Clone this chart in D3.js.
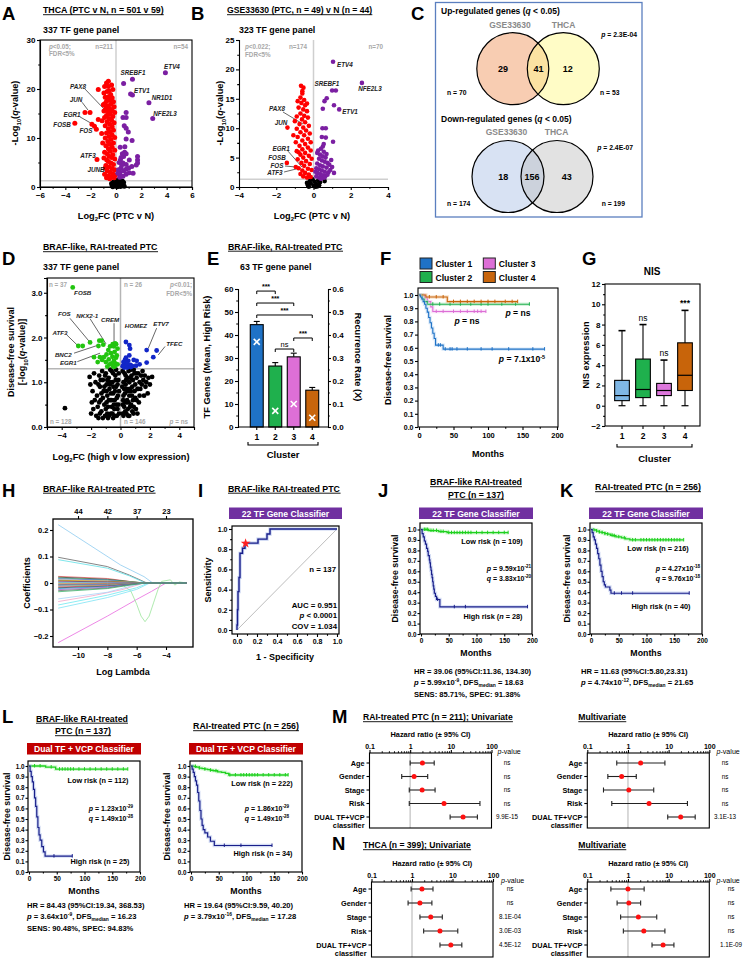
<!DOCTYPE html>
<html><head><meta charset="utf-8">
<script src="https://cdn.jsdelivr.net/npm/d3@7/dist/d3.min.js"></script>
<style>html,body{margin:0;padding:0;background:#fff;}svg{display:block;}</style>
</head><body>
<svg id="fig" width="745" height="959" xmlns="http://www.w3.org/2000/svg"></svg>
<script>
// ================= DATA =================
// Panel A (THCA volcano)
const A_xTicks=[-6,-4,-2,0,2,4,6], A_yTicks=[0,10,20,30];
const A_up=[[3.9,23.3],[1.3,22.0],[0.6,21.1],[1.15,19.0],[1.3,18.8],[2.6,17.2],[2.9,14.0],[0.8,15.2],[0.55,14.2],[0.8,14.2],[0.65,12.5],[0.8,12.0],[0.97,11.2],[0.8,9.8],[1.27,9.5],[0.33,8.1],[0.68,7.1],[0.8,6.8],[0.6,6.2],[1.7,6.2],[1.7,5.5],[1.7,4.9],[0.35,5.5],[0.55,4.9],[0.8,4.6],[1.05,5.5],[1.6,4.5],[0.4,3.9],[0.8,3.6],[1.05,2.9],[1.35,2.8],[0.3,3.0],[0.6,3.3],[0.8,2.6],[0.35,2.4],[0.2,3.5],[0.45,4.5],[0.25,5.0],[0.5,6.8],[0.7,8.2],[0.3,2.0],[0.55,2.2],[1.0,3.9],[0.4,6.0],[0.15,2.8],[1.25,4.2]];
const A_down=[[-3.25,13.0],[-2.45,15.2],[-2.05,15.2],[-1.9,12.8],[-1.7,12.4],[-1.55,11.8],[-1.4,13.8],[-1.4,19.9],[-1.13,10.9],[-1.5,5.6],[-0.95,5.9],[-0.73,5.5],[-0.9,20.5],[-0.6,21.6],[-0.75,21.2],[-0.6,20.5],[-0.35,20.8],[-0.7,19.5],[-0.95,19.2],[-0.42,18.9],[-0.85,18.3],[-0.6,18.4],[-0.3,18.2],[-0.5,17.7],[-0.75,17.5],[-0.2,17.4],[-0.9,17.0],[-0.4,16.9],[-0.65,16.6],[-0.15,16.4],[-0.8,16.1],[-0.5,16.0],[-0.3,15.6],[-0.95,15.5],[-0.6,15.3],[-0.1,15.2],[-0.45,14.9],[-0.75,14.6],[-0.25,14.4],[-0.9,14.2],[-0.55,14.0],[-0.35,13.6],[-0.7,13.3],[-0.15,13.1],[-0.5,12.8],[-0.85,12.5],[-0.3,12.3],[-0.6,11.9],[-0.2,11.6],[-0.45,11.3],[-0.75,11.0],[-0.3,10.6],[-0.55,10.3],[-0.1,10.1],[-0.85,10.0],[-0.4,9.7],[-0.65,9.3],[-0.2,9.0],[-0.5,8.7],[-0.8,8.4],[-0.3,8.1],[-0.6,7.8],[-0.1,7.5],[-0.45,7.3],[-0.9,7.1],[-0.7,6.8],[-0.25,6.6],[-0.55,6.3],[-0.35,6.0],[-0.1,5.7],[-0.6,5.2],[-0.4,4.9],[-0.2,4.6],[-0.8,4.4],[-0.55,4.1],[-0.3,3.8],[-0.1,3.5],[-0.7,3.3],[-0.45,3.0],[-0.25,2.7],[-0.9,2.6],[-0.6,2.3],[-0.35,2.1],[-0.15,1.9],[-0.5,1.7],[-0.75,1.9],[-0.05,2.4],[-0.85,3.9],[-0.65,15.8],[-0.4,17.9],[-0.55,19.6],[-0.25,19.9],[-1.05,9.0],[-1.1,13.5],[-1.0,16.8]];
const A_ns=[[-0.3,0.3],[-0.15,0.6],[0,0.2],[0.15,0.5],[0.3,0.3],[-0.2,1.0],[0.05,0.9],[0.25,1.1],[-0.05,1.4],[0.1,0.05],[-0.25,0.05],[0.45,0.8],[-0.35,0.7],[0.35,0.1],[0.55,0.4],[0.2,1.5],[0.5,1.2],[-0.1,0.4],[0.4,0.55],[0.65,0.15],[0.1,0.75],[-0.1,1.15],[0.3,0.95],[0.6,0.9],[0.05,0.45]];
const A_labels=[['ETV4',4.42,24.0],['SREBF1',1.34,22.8],['ETV1',2.05,19.1],['NR1D1',3.63,17.7],['NFE2L3',3.87,14.4],['PAX8',-3.0,20.1],['JUN',-3.16,17.3],['EGR1',-3.47,14.2],['FOSB',-4.26,12.2],['FOS',-2.37,11.0],['ATF3',-2.21,5.86],['JUNB',-1.58,3.0]];
const A_leaders=[[-2.45,20.0,-0.79,15.5],[-2.68,17.3,-2.21,15.7],[-2.84,14.3,-1.89,12.9]];
// Panel B (GSE33630 volcano)
const B_xTicks=[-4,-2,0,2,4], B_yTicks=[0,5,10,15,20,25];
const B_up=[[1.05,21.3],[2.6,17.7],[1.0,16.4],[1.2,16.4],[0.71,15.1],[0.59,14.6],[0.5,13.3],[1.1,13.9],[1.38,13.2],[0.48,10.0],[0.66,10.0],[0.66,8.4],[0.5,6.9],[0.55,7.3],[1.05,7.7],[0.45,8.5],[0.2,5.8],[0.35,5.5],[0.5,5.2],[0.65,5.0],[0.3,4.8],[0.45,4.5],[0.6,4.3],[0.75,4.1],[0.2,4.0],[0.35,3.7],[0.5,3.5],[0.7,3.3],[0.15,3.2],[0.3,3.0],[0.45,2.8],[0.6,2.6],[0.8,2.5],[0.2,2.4],[0.35,2.2],[0.5,2.0],[0.65,1.9],[0.15,1.8],[0.3,1.6],[0.45,1.5],[0.25,6.2],[0.4,6.5],[0.55,6.0],[0.7,5.6],[0.85,3.8],[0.9,2.9],[0.4,1.4],[0.1,2.6],[0.6,1.6],[0.75,2.1],[1.0,3.4],[1.1,2.4],[0.95,4.6]];
const B_down=[[-1.4,10.1],[-1.43,4.1],[-0.95,3.4],[-0.67,17.2],[-0.54,16.9],[-0.6,15.9],[-0.7,15.2],[-0.5,14.8],[-0.65,14.3],[-0.45,13.9],[-0.8,13.5],[-0.55,13.2],[-0.35,12.9],[-0.7,12.5],[-0.9,12.0],[-0.5,12.1],[-0.3,11.8],[-0.62,11.5],[-1.0,11.2],[-0.45,11.0],[-0.75,10.7],[-0.25,10.4],[-0.55,10.1],[-0.9,9.9],[-0.4,9.6],[-0.7,9.3],[-1.08,8.8],[-0.2,9.1],[-0.5,8.8],[-0.85,8.5],[-0.3,8.2],[-0.6,7.9],[-0.95,7.6],[-0.15,7.6],[-0.45,7.3],[-0.75,7.0],[-0.3,6.7],[-0.6,6.4],[-0.9,6.1],[-0.15,6.2],[-0.45,5.8],[-0.7,5.5],[-0.25,5.3],[-0.55,5.0],[-0.85,4.7],[-0.1,4.8],[-0.4,4.4],[-0.65,4.1],[-0.2,3.9],[-0.5,3.6],[-0.8,3.2],[-0.3,3.1],[-0.6,2.8],[-0.1,2.9],[-0.45,2.4],[-0.7,2.2],[-0.25,2.1],[-0.55,1.8],[-0.15,1.7],[-0.35,1.6],[-0.8,5.9],[-0.35,14.2],[-0.85,14.6],[-0.6,16.3]];
const B_ns=[[-0.3,0.3],[-0.15,0.6],[0,0.2],[0.15,0.5],[0.3,0.3],[-0.2,1.0],[0.05,0.9],[0.25,1.1],[-0.05,1.3],[0.1,0.05],[-0.25,0.05],[0.35,0.8],[-0.35,0.7],[0.2,0.1],[0.6,1.0]];
const B_labels=[['NFE2L3',3.03,16.3],['SREBF1',0.72,17.1],['ETV1',1.96,12.5],['PAX8',-1.96,13.0],['JUN',-1.74,10.5],['EGR1',-1.74,6.07],['FOSB',-1.96,4.54],['FOS',-1.96,3.18],['ATF3',-2.07,2.0]];
const B_labelStart=[['ETV4',1.26,20.4]];
const B_leaders=[[-1.64,12.76,-0.56,10.7],[-1.37,6.1,-0.62,3.4],[-1.53,3.57,-0.94,3.4],[-1.58,2.55,-0.72,3.23]];
// Panel C (Venn)
const C_names=['GSE33630','THCA'];
const C_upCounts=[29,41,12], C_upTotals=[70,53];
const C_downCounts=[18,156,43], C_downTotals=[174,199];
const C_pvals=['2.3E-04','2.4E-07'];
// Panel D (survival volcano)
const D_xTicks=[-4,-2,0,2,4], D_yTicks=[0,1,2,3];
const D_green=[[-3.25,3.12],[-2.87,1.81],[-2.57,1.81],[-2.07,1.89],[-1.44,1.93],[-1.28,1.93],[-1.17,1.84],[-1.5,1.81],[-1.8,1.56],[-1.4,1.56],[-1.13,1.56],[-0.83,1.72],[-0.71,1.8],[-0.53,1.85],[-0.37,1.87],[-0.45,1.8],[-0.3,1.85],[-0.4,1.68],[-0.55,1.57],[-0.8,1.51],[-0.45,1.48],[-0.35,1.42],[-0.6,1.42],[-1.0,1.45],[-0.25,1.6],[-0.65,1.65],[-0.95,1.62],[-0.2,1.4],[-0.3,1.55],[-1.25,1.5],[-0.5,1.35],[-0.2,1.75],[-0.75,1.4],[-1.55,1.45],[-0.4,1.35],[-0.9,1.35]];
const D_blue=[[0.37,1.9],[0.6,1.83],[0.65,1.75],[0.37,1.55],[0.53,1.48],[0.37,1.44],[0.23,1.39],[0.68,1.39],[1.1,1.48],[1.06,1.37],[0.53,1.37],[1.78,1.72],[1.78,1.44],[2.46,1.71],[2.23,1.56],[0.3,1.5],[0.45,1.42],[0.8,1.36],[0.2,1.45],[0.9,1.5],[0.6,1.6],[0.25,1.33],[0.45,1.33],[0.7,1.34],[1.3,1.4],[0.15,1.36]];
const D_ns=[[-2.1,1.12],[-2.05,0.95],[-1.9,0.8],[-1.95,0.55],[-2.0,0.3],[-1.7,1.0],[-1.6,0.7],[-1.55,0.45],[-1.65,0.25],[-1.45,1.15],[-1.4,0.9],[-1.35,0.6],[-1.3,0.35],[-1.25,1.25],[-1.2,1.05],[-1.15,0.8],[-1.1,0.5],[-1.05,0.25],[-1.0,1.2],[-0.95,0.95],[-0.9,0.7],[-0.85,0.45],[-0.8,1.1],[-0.75,0.85],[-0.7,0.6],[-0.65,0.3],[-0.6,1.25],[-0.55,1.0],[-0.5,0.75],[-0.45,0.5],[-0.4,0.25],[-0.35,1.15],[-0.3,0.9],[-0.25,0.65],[-0.2,0.4],[-0.15,1.05],[-0.1,0.8],[-0.1,0.3],[-0.5,0.2],[-0.85,0.2],[-1.2,0.2],[-0.7,1.28],[-0.3,1.28],[-1.5,0.2],[-0.6,0.45],[-0.95,0.55],[-1.3,0.75],[-0.4,0.6],[-0.75,1.0],[-0.2,0.95],[0.15,1.25],[0.2,1.0],[0.2,0.7],[0.25,0.45],[0.2,0.25],[0.35,1.15],[0.4,0.85],[0.45,0.6],[0.4,0.3],[0.55,1.25],[0.6,1.0],[0.6,0.7],[0.65,0.45],[0.6,0.25],[0.75,1.15],[0.8,0.9],[0.85,0.6],[0.8,0.35],[0.95,1.2],[1.0,0.95],[1.0,0.65],[1.05,0.4],[1.1,1.1],[1.2,0.85],[1.25,0.55],[1.3,1.0],[1.4,1.15],[1.55,1.05],[1.7,0.9],[1.9,1.1],[2.15,1.12],[1.6,0.7],[0.3,0.55],[0.5,0.4],[0.7,0.8],[0.9,0.45],[1.15,0.3],[0.35,0.95],[0.9,1.28],[0.5,1.1],[1.3,0.7],[0.15,0.5],[0.25,0.85],[0.7,1.28],[1.85,0.75],[-3.78,0.42],
 [-1.8,1.2],[-1.75,0.6],[-1.85,0.4],[-1.5,0.95],[-1.45,0.55],[-1.4,0.3],[-1.35,1.05],[-1.2,0.65],[-1.1,0.9],[-1.05,1.15],[-1.0,0.4],[-0.95,0.8],[-0.9,1.05],[-0.9,0.3],[-0.8,0.6],[-0.78,0.25],[-0.72,0.95],[-0.65,0.75],[-0.6,0.6],[-0.55,0.3],[-0.5,1.2],[-0.48,0.9],[-0.42,0.4],[-0.38,0.8],[-0.33,1.05],[-0.28,0.5],[-0.25,0.25],[-0.18,0.7],[-0.15,0.5],[-0.12,1.2],[0.12,0.9],[0.15,0.3],[0.18,0.6],[0.28,1.2],[0.3,0.75],[0.32,0.35],[0.38,1.05],[0.42,0.55],[0.48,0.8],[0.52,0.25],[0.55,0.55],[0.62,0.85],[0.68,1.1],[0.72,0.5],[0.78,0.7],[0.85,1.05],[0.88,0.3],[0.95,0.8],[1.05,1.2],[1.1,0.6],[1.15,0.85],[1.2,1.2],[1.35,0.85],[1.45,0.95],[1.5,1.25],[1.65,1.15],[1.75,1.0],[2.0,0.95]];
const D_labels=[['FOSB',-2.57,2.96],['FOS',-3.82,2.48],['NKX2-1',-2.26,2.44],['CREM',-0.71,2.34],['ATF3',-4.12,2.06],['BNC2',-3.89,1.57],['EGR1',-3.55,1.39],['HOMEZ',1.05,2.21],['ETV7',2.76,2.25],['TFEC',3.66,1.8]];
const D_leaders=[[-3.44,2.43,-2.12,1.91],[-2.07,2.42,-0.99,1.86],[-0.44,2.32,-0.44,1.87],[-3.66,2.06,-2.94,1.83],[-3.16,1.65,-1.51,1.83],[-2.94,1.46,-1.39,1.65],[2.46,2.21,1.89,1.76],[3.03,1.8,2.57,1.61]];
// Panel E (bars)
const E_clusters=[1,2,3,4];
const E_mean=[44.5,26.5,30.5,16.0], E_sem=[1.4,1.5,1.6,1.2], E_rate=[0.37,0.07,0.10,0.04];
const E_yTicks=[0,10,20,30,40,50,60], E_rTicks=[0,0.1,0.2,0.3,0.4,0.5,0.6];
const E_sig=[[1,2,'***',59.1],[1,3,'***',53.9],[1,4,'***',48.7],[3,4,'***',38.7],[2,3,'ns',33.9]];
// Panel F (KM by cluster)
const F_c1=[[0,1],[2,0.985],[4,0.97],[6,0.95],[8,0.93],[10,0.9],[12,0.87],[14,0.83],[16,0.79],[18,0.75],[20,0.71],[22,0.67],[24,0.62],[35,0.59],[182,0.59]];
const F_c2=[[0,1],[5,0.97],[8,0.95],[12,0.93],[160,0.93]];
const F_c3=[[0,1],[8,0.98],[12,0.95],[17,0.91],[20,0.875],[97,0.875]];
const F_c4=[[0,1],[10,0.985],[41,0.95],[143,0.95]];
const F_c1Cens=[28,31,38,45,48,55,70,90,106,130,165,182];
const F_c2Cens=[20,30,45,60,75,90,100,120,140,160];
const F_c3Cens=[25,35,50,60,70,80,85,90,97];
const F_c4Cens=[15,25,35,50,60,70,80,90,100,110,125,135,143];
const F_xTicks=[0,50,100,150,200], F_yTicks=[0,0.1,0.2,0.3,0.4,0.5,0.6,0.7,0.8,0.9,1.0];
// Panel G (NIS boxplots)
const G_min=[0,0,0,0], G_q1=[0.5,0.8,1.0,1.5], G_med=[1.0,1.6,1.5,3.0], G_q3=[2.5,4.6,2.2,6.2], G_max=[7.4,8.0,4.5,9.4];
const G_sig=['','ns','ns','***'];
const G_yTicks=[-2,0,2,4,6,8,10,12];
// Panel H (lasso paths)
const H_paths=[
 [[-11.35,0.22],[-7.1,0.068],[-5.5,0.024],[-4.9,0],[-2.6,0]],
 [[-11.35,0.097],[-8,0.062],[-6.5,0.03],[-5.3,0],[-2.6,0]],
 [[-11.35,0.088],[-8,0.056],[-6.5,0.027],[-5.4,0],[-2.6,0]],
 [[-11.35,-0.225],[-8,-0.125],[-6,-0.062],[-5,-0.032],[-4.0,0],[-2.6,0]],
 [[-11.35,-0.004],[-7,-0.006],[-6.4,-0.03],[-6.0,-0.08],[-5.7,-0.125],[-5.43,-0.146],[-5.15,-0.125],[-4.85,-0.075],[-4.55,-0.025],[-4.3,0.006],[-3.7,0.012],[-3.4,-0.008],[-3.1,0.004],[-2.6,0]],
 [[-11.35,-0.083],[-8,-0.046],[-6,-0.018],[-5.2,0],[-2.6,0]],
 [[-11.35,-0.095],[-8,-0.055],[-6,-0.024],[-5.1,0],[-2.6,0]],
 [[-11.35,-0.07],[-9,-0.048],[-7,-0.025],[-5.5,0],[-2.6,0]],
 [[-11.35,-0.06],[-8,-0.035],[-5.6,0],[-2.6,0]],
 [[-11.35,0.025],[-8,0.017],[-5.7,0],[-2.6,0]],
 [[-11.35,0.022],[-8,0.014],[-5.5,0],[-2.6,0]],
 [[-11.35,0.019],[-8,0.012],[-5.4,0],[-2.6,0]],
 [[-11.35,0.016],[-8,0.011],[-5.9,0],[-2.6,0]],
 [[-11.35,0.013],[-8,0.008],[-5.3,0],[-2.6,0]],
 [[-11.35,0.01],[-8,0.007],[-5.6,0],[-2.6,0]],
 [[-11.35,0.007],[-8,0.004],[-5.2,0],[-2.6,0]],
 [[-11.35,0.004],[-8,0.003],[-5.5,0],[-2.6,0]],
 [[-11.35,0.001],[-8,0.0],[-5.8,0],[-2.6,0]],
 [[-11.35,-0.003],[-8,-0.002],[-5.4,0],[-2.6,0]],
 [[-11.35,-0.006],[-8,-0.004],[-5.6,0],[-2.6,0]],
 [[-11.35,-0.009],[-8,-0.006],[-5.3,0],[-2.6,0]],
 [[-11.35,-0.012],[-8,-0.008],[-5.7,0],[-2.6,0]],
 [[-11.35,-0.015],[-8,-0.01],[-5.5,0],[-2.6,0]],
 [[-11.35,-0.018],[-8,-0.012],[-5.2,0],[-2.6,0]],
 [[-11.35,-0.021],[-8,-0.014],[-5.6,0],[-2.6,0]],
 [[-11.35,-0.025],[-8,-0.016],[-5.4,0],[-2.6,0]],
 [[-11.35,-0.029],[-8,-0.019],[-5.8,0],[-2.6,0]],
 [[-11.35,-0.033],[-8,-0.021],[-5.5,0],[-2.6,0]]
];
const H_xTicks=[-10,-8,-6,-4], H_topLabels=['44','42','37','23'], H_yTicks=[-0.2,-0.1,0,0.1,0.2];
// Panel I (ROC)
const I_roc=[[0,0],[0,0.05],[0.005,0.05],[0.005,0.2],[0.01,0.2],[0.01,0.38],[0.02,0.38],[0.02,0.52],[0.03,0.52],[0.03,0.76],[0.055,0.76],[0.055,0.81],[0.08,0.81],[0.08,0.86],[0.21,0.86],[0.21,0.9],[0.3,0.9],[0.3,0.95],[0.33,0.95],[0.33,1.0],[1.0,1.0]];
const I_star=[0.086,0.857];
const I_ticks=[0,0.2,0.4,0.6,0.8,1.0];
const I_stats=['AUC = 0.951','<i>p</i> < 0.0001','COV = 1.034'];
// Panel J, K, L (KM risk groups)
const KM_xTicks=[0,50,100,150,200], KM_yTicks=[0,0.1,0.2,0.3,0.4,0.5,0.6,0.7,0.8,0.9,1.0];
const J_low=[[0,1],[14,0.99],[32,0.98],[47,0.97],[157,0.97]];
const J_high=[[0,1],[2,0.96],[4,0.93],[6,0.89],[8,0.86],[10,0.82],[12,0.79],[13,0.75],[15,0.71],[16,0.68],[17,0.64],[18,0.61],[19,0.57],[20,0.54],[21,0.5],[22,0.46],[23,0.43],[24,0.39],[26,0.36],[28,0.33],[34,0.26],[192,0.26]];
const J_lowCens=[6,9,12,18,22,28,36,40,50,55,60,65,70,75,80,85,90,100,110,120,130,140,150,157];
const J_highCens=[30,60,80,192];
const K_low=[[0,1],[5,0.995],[10,0.985],[15,0.975],[20,0.97],[25,0.96],[30,0.955],[35,0.945],[40,0.94],[45,0.93],[55,0.92],[62,0.91],[70,0.9],[167,0.9]];
const K_high=[[0,1],[2,0.97],[4,0.93],[6,0.9],[8,0.86],[10,0.82],[12,0.77],[14,0.72],[16,0.66],[18,0.6],[20,0.55],[22,0.5],[24,0.47],[26,0.45],[34,0.42],[36,0.39],[177,0.39]];
const K_lowCens=[5,10,15,20,25,30,38,42,50,60,75,80,90,95,100,105,110,115,120,125,130,135,140,145,150,155,160,167];
const K_highCens=[42,55,75,177];
const L1_low=[[0,1],[30,0.99],[48,0.97],[178,0.97]];
const L1_high=[[0,1],[2,0.95],[4,0.9],[6,0.85],[8,0.78],[10,0.7],[12,0.62],[14,0.52],[16,0.42],[18,0.35],[20,0.3],[23,0.24],[26,0.19],[29,0.15],[78,0.15]];
const L1_lowCens=[10,20,40,55,60,65,70,75,80,90,100,110,120,130,140,150,160,170,178];
const L1_highCens=[45,78];
const L2_low=[[0,1],[5,0.995],[10,0.99],[15,0.98],[20,0.975],[25,0.97],[30,0.965],[35,0.96],[40,0.955],[48,0.945],[55,0.94],[62,0.93],[68,0.915],[175,0.915]];
const L2_high=[[0,1],[2,0.97],[4,0.94],[6,0.9],[8,0.86],[10,0.82],[12,0.75],[14,0.67],[16,0.58],[18,0.5],[20,0.44],[22,0.4],[25,0.37],[30,0.33],[35,0.29],[42,0.25],[146,0.25]];
const L2_lowCens=[8,15,25,35,45,70,80,90,95,100,105,110,115,120,130,140,150,160,170,175];
const L2_highCens=[60,90,146];
// Panels M, N (forest)
const FP_rows=['Age','Gender','Stage','Risk','DUAL TF+VCP'];
const FP_ticks=[0.1,1,10,100];
const M_uniHR=[2.0,1.25,1.97,6.8,20], M_uniLo=[1.0,0.62,0.95,0.95,9.6], M_uniHi=[3.9,2.7,4.1,52,45], M_uniP=['ns','ns','ns','ns','9.9E-15'];
const M_mulHR=[2.05,0.7,1.05,3.3,19.8], M_mulLo=[0.53,0.32,0.25,0.4,9.5], M_mulHi=[8.1,1.6,4.3,29,45], M_mulP=['ns','ns','ns','ns','3.1E-13'];
const N_uniHR=[1.76,1.57,2.9,4.9,9.1], N_uniLo=[0.95,0.8,1.57,1.94,4.9], N_uniHi=[3.3,3.1,5.6,13.5,17], N_uniP=['ns','ns','8.1E-04','3.0E-03','4.5E-12'];
const N_mulHR=[1.0,1.05,1.8,2.45,7.3], N_mulLo=[0.38,0.54,0.66,0.77,3.9], N_mulHi=[2.5,2.05,5.1,8.1,13.5], N_mulP=['ns','ns','ns','ns','1.1E-09'];

// ================= HELPERS =================
const FONT='"Liberation Sans", Arial, Helvetica, sans-serif';
const svg=d3.select('#fig').attr('font-family',FONT);
function T(x,y,s,o={}){
  const g=o.g||svg, fs=o.fs||8;
  const t=g.append('text').attr('x',x).attr('y',y).attr('font-size',fs)
    .attr('font-weight',o.fw||'bold').attr('text-anchor',o.a||'start').attr('fill',o.c||'#000');
  if(o.it) t.attr('font-style','italic');
  if(o.rot!=null) t.attr('transform',`rotate(${o.rot},${x},${y})`);
  let it=false,mode=null,off=0;
  String(s).split(/(<\/?(?:i|sub|sup)>)/).forEach(p=>{
    if(p==='<i>'){it=true;return;} if(p==='</i>'){it=false;return;}
    if(p==='<sub>'){mode='sub';return;} if(p==='<sup>'){mode='sup';return;}
    if(p==='</sub>'||p==='</sup>'){mode=null;return;}
    if(p==='')return;
    const tgt=mode==='sub'?fs*0.28:mode==='sup'?-fs*0.4:0;
    const ts=t.append('tspan').text(p);
    if(tgt-off!==0) ts.attr('dy',tgt-off);
    off=tgt;
    if(mode) ts.attr('font-size',fs*0.65);
    if(it) ts.attr('font-style','italic');
  });
  if(o.u){const b=t.node().getBBox();g.append('line').attr('x1',b.x).attr('x2',b.x+b.width).attr('y1',y+1.7).attr('y2',y+1.7).attr('stroke',o.c||'#000').attr('stroke-width',0.9);}
  return t;
}
function AX(orient,scale,pos,o={}){
  const g=o.g||svg;
  const mk={left:d3.axisLeft,right:d3.axisRight,top:d3.axisTop,bottom:d3.axisBottom}[orient];
  const a=mk(scale).tickSizeOuter(0).tickSize(o.ts??3).tickPadding(o.tp??1.5);
  if(o.vals) a.tickValues(o.vals);
  if(o.fmt) a.tickFormat(o.fmt);
  const tr=(orient==='left'||orient==='right')?`translate(${pos},0)`:`translate(0,${pos})`;
  const gg=g.append('g').attr('transform',tr).call(a);
  gg.attr('font-family',FONT);
  gg.select('.domain').attr('stroke','#000').attr('stroke-width',o.sw??1.1);
  if(o.nodomain) gg.select('.domain').remove();
  gg.selectAll('.tick line').attr('stroke','#000').attr('stroke-width',o.sw??1.1);
  gg.selectAll('.tick text').attr('font-size',o.fs??8).attr('font-weight','bold').attr('fill','#000');
  if(o.minor){
    const m=mk(scale).tickValues(o.minor).tickSize(o.mts??1.8).tickFormat('').tickSizeOuter(0);
    const mg=g.append('g').attr('transform',tr).call(m);
    mg.select('.domain').remove();
    mg.selectAll('.tick line').attr('stroke','#000').attr('stroke-width',o.msw??(o.sw??1.1));
  }
  return gg;
}
function line(x1,y1,x2,y2,c='#000',w=1){return svg.append('line').attr('x1',x1).attr('y1',y1).attr('x2',x2).attr('y2',y2).attr('stroke',c).attr('stroke-width',w);}
function frame(x0,y0,x1,y1,w=1.1){svg.append('rect').attr('x',x0).attr('y',y0).attr('width',x1-x0).attr('height',y1-y0).attr('fill','none').attr('stroke','#000').attr('stroke-width',w);}
function dots(data,x,y,r,col){svg.append('g').selectAll('circle').data(data).join('circle').attr('cx',d=>x(d[0])).attr('cy',d=>y(d[1])).attr('r',r).attr('fill',col);}
function survAt(data,t){let s=data[0][1];for(const [tt,v] of data){if(tt<=t)s=v;else break;}return s;}
function kmCurve(data,cens,x,y,col,halo,w=1.2){
  const ln=d3.line().x(d=>x(d[0])).y(d=>y(d[1])).curve(d3.curveStepAfter);
  if(halo) svg.append('path').attr('d',ln(data)).attr('fill','none').attr('stroke',halo).attr('stroke-width',w+2.2).attr('opacity',0.45);
  svg.append('path').attr('d',ln(data)).attr('fill','none').attr('stroke',col).attr('stroke-width',w);
  svg.append('g').selectAll('line').data(cens).join('line').attr('x1',d=>x(d)).attr('x2',d=>x(d))
    .attr('y1',d=>y(survAt(data,d))-2).attr('y2',d=>y(survAt(data,d))+1.5).attr('stroke',col).attr('stroke-width',1);
}
const RED='#ff0000', PURPLE='#7b1fa2', GRAYTXT='#a8a8a8', GUIDE='#cfcfcf';
const CL=['#1f72c6','#1fb04d','#dd6fd6','#c8650c'];

// ================= PANEL LETTERS =================
[['A',2,20],['B',191,20],['C',411,20],['D',2,265],['E',207,265],['F',380,265],['G',582,265],['H',2,497],['I',198,497],['J',378,497],['K',560,497],['L',2,723],['M',332,723],['N',332,850]]
 .forEach(d=>T(d[1],d[2],d[0],{fs:18.5}));

// ================= PANEL A =================
{
 const x=d3.scaleLinear().domain([-6,6]).range([40,192]);
 const y=d3.scaleLinear().domain([0,30]).range([187,40]);
 T(43,13,'THCA (PTC v N, n = 501 v 59)',{fs:8.8,u:true});
 T(43,32.5,'337 TF gene panel',{fs:8.8});
 line(x(0),40,x(0),187,GUIDE,1.5); line(40,y(1.3),192,y(1.3),GUIDE,1.5);
 A_leaders.forEach(d=>line(x(d[0]),y(d[1]),x(d[2]),y(d[3]),'#000',0.6));
 dots(A_ns,x,y,2.5,'#000'); dots(A_down,x,y,2.5,RED); dots(A_up,x,y,2.5,PURPLE);
 A_labels.forEach(d=>T(x(d[1]),y(d[2]),d[0],{fs:6.3,it:true,a:'middle',c:'#222'}));
 frame(40,40,192,187);
 AX('left',y,40,{vals:A_yTicks,minor:[5,15,25]});
 AX('bottom',x,187,{vals:A_xTicks,minor:[-5,-3,-1,1,3,5],tp:2.5});
 T(49,48.5,'<i>p</i><0.05;',{fs:6.3,c:GRAYTXT}); T(49,56,'FDR<5%',{fs:6.3,c:GRAYTXT});
 T(113,48.5,'n=211',{fs:6.3,c:GRAYTXT,a:'end'}); T(188,48.5,'n=54',{fs:6.3,c:GRAYTXT,a:'end'});
 T(18,113,'-Log<sub>10</sub>(<i>q</i>-value)',{fs:9.2,rot:-90,a:'middle'});
 T(116,218.5,'Log<sub>2</sub>FC (PTC v N)',{fs:9.2,a:'middle'});
}
// ================= PANEL B =================
{
 const x=d3.scaleLinear().domain([-4,4]).range([239,388]);
 const y=d3.scaleLinear().domain([0,25]).range([187,40]);
 T(227,13,'GSE33630 (PTC, n = 49) v N (n = 44)',{fs:8.6,u:true});
 T(239,32.5,'323 TF gene panel',{fs:8.8});
 line(x(0),40,x(0),187,GUIDE,1.5); line(239,y(1.3),388,y(1.3),GUIDE,1.5);
 B_leaders.forEach(d=>line(x(d[0]),y(d[1]),x(d[2]),y(d[3]),'#000',0.6));
 dots(B_ns,x,y,2.3,'#000'); dots(B_down,x,y,2.3,RED); dots(B_up,x,y,2.3,PURPLE);
 B_labels.forEach(d=>T(x(d[1]),y(d[2]),d[0],{fs:6.3,it:true,a:'middle',c:'#222'}));
 B_labelStart.forEach(d=>T(x(d[1]),y(d[2]),d[0],{fs:6.3,it:true,c:'#222'}));
 AX('left',y,239,{vals:B_yTicks,minor:[2.5,7.5,12.5,17.5,22.5]});
 AX('bottom',x,187,{vals:B_xTicks,minor:[-3,-1,1,3],tp:2.5});
 T(245,49,'<i>p</i><0.022;',{fs:6.3,c:GRAYTXT}); T(245,56.5,'FDR<5%',{fs:6.3,c:GRAYTXT});
 T(307,49,'n=174',{fs:6.3,c:GRAYTXT,a:'end'}); T(383,49,'n=70',{fs:6.3,c:GRAYTXT,a:'end'});
 T(223,113,'-Log<sub>10</sub>(<i>q</i>-value)',{fs:9.2,rot:-90,a:'middle'});
 T(312,218.5,'Log<sub>2</sub>FC (PTC v N)',{fs:9.2,a:'middle'});
}
// ================= PANEL C =================
{
 svg.append('rect').attr('x',435.5).attr('y',2.5).attr('width',206.5).attr('height',214.5).attr('fill','none').attr('stroke','#5b7fbf').attr('stroke-width',1.3);
 const venn=(cx1,cx2,cy,r,f1,f2,f12,id)=>{
   svg.append('circle').attr('cx',cx1).attr('cy',cy).attr('r',r).attr('fill',f1);
   svg.append('circle').attr('cx',cx2).attr('cy',cy).attr('r',r).attr('fill',f2);
   svg.append('clipPath').attr('id',id).append('circle').attr('cx',cx1).attr('cy',cy).attr('r',r);
   svg.append('circle').attr('cx',cx2).attr('cy',cy).attr('r',r).attr('fill',f12).attr('clip-path',`url(#${id})`);
   [cx1,cx2].forEach(c=>svg.append('circle').attr('cx',c).attr('cy',cy).attr('r',r).attr('fill','none').attr('stroke','#000').attr('stroke-width',1.2));
 };
 T(441,14,'Up-regulated genes (<i>q</i> < 0.05)',{fs:8.5});
 T(510,28,C_names[0],{fs:8.5,a:'middle',c:'#8a8a8a'}); T(563.5,28,C_names[1],{fs:8.5,a:'middle',c:'#8a8a8a'});
 venn(512.8,563.3,68.7,36,'#f8cdb2','#fffcc6','#fbe2a2','cu');
 T(503,71.5,C_upCounts[0],{fs:9,a:'middle'}); T(538.5,71.5,C_upCounts[1],{fs:9,a:'middle'}); T(567.7,71.5,C_upCounts[2],{fs:9,a:'middle'});
 T(637,37,'<i>p</i> = '+C_pvals[0],{fs:6.8,a:'end'});
 T(447,95,'n = '+C_upTotals[0],{fs:6.8}); T(600,95,'n = '+C_upTotals[1],{fs:6.8});
 T(441,121.5,'Down-regulated genes (<i>q</i> < 0.05)',{fs:8.5});
 T(506.5,135,C_names[0],{fs:8.5,a:'middle',c:'#8a8a8a'}); T(556.5,135,C_names[1],{fs:8.5,a:'middle',c:'#8a8a8a'});
 venn(508,557,176.5,36,'#d8e2f3','#e2e2e2','#ccd2dc','cd');
 T(503.3,179.5,C_downCounts[0],{fs:9,a:'middle'}); T(532,179.5,C_downCounts[1],{fs:9,a:'middle'}); T(566.7,179.5,C_downCounts[2],{fs:9,a:'middle'});
 T(633,149.5,'<i>p</i> = '+C_pvals[1],{fs:6.8,a:'end'});
 T(447,206,'n = '+C_downTotals[0],{fs:6.8}); T(601.7,206,'n = '+C_downTotals[1],{fs:6.8});
}
// ================= PANEL D =================
{
 const x=d3.scaleLinear().domain([-5,5]).range([47,194]);
 const y=d3.scaleLinear().domain([0,3.33]).range([427,278]);
 T(43,250,'BRAF-like, RAI-treated PTC',{fs:8.8,u:true});
 T(43,270,'337 TF gene panel',{fs:8.8});
 line(x(0),278,x(0),427,'#b5b5b5',1.5); line(47,y(1.3),194,y(1.3),'#b5b5b5',1.5);
 D_leaders.forEach(d=>line(x(d[0]),y(d[1]),x(d[2]),y(d[3]),'#000',0.6));
 dots(D_ns,x,y,2.4,'#000'); dots(D_green,x,y,2.4,'#22c40f'); dots(D_blue,x,y,2.4,'#1226c8');
 D_labels.forEach(d=>T(x(d[1]),y(d[2]),d[0],{fs:6.2,it:true,a:'middle',c:'#222'}));
 frame(47,278,194,427);
 AX('left',y,47,{vals:D_yTicks,minor:[0.5,1.5,2.5]});
 AX('bottom',x,427,{vals:D_xTicks,minor:[-5,-3,-1,1,3,5],tp:2.5});
 T(49,287,'n = 37',{fs:6.3,c:GRAYTXT}); T(124,287,'n = 26',{fs:6.3,c:GRAYTXT});
 T(192,287,'<i>p</i><0.01;',{fs:6.3,c:GRAYTXT,a:'end'}); T(192,296,'FDR<5%',{fs:6.3,c:GRAYTXT,a:'end'});
 T(50,423.5,'n = 128',{fs:6.3,c:GRAYTXT}); T(124,423.5,'n = 146',{fs:6.3,c:GRAYTXT}); T(188,423.5,'<i>p</i> = ns',{fs:6.3,c:GRAYTXT,a:'end'});
 T(13.5,352,'Disease-free survival',{fs:9,rot:-90,a:'middle'});
 T(25,352,'[-log<sub>10</sub>(<i>q</i>-value)]',{fs:9,rot:-90,a:'middle'});
 T(121,459.5,'Log<sub>2</sub>FC (high v low expression)',{fs:9.2,a:'middle'});
}
// ================= PANEL E =================
{
 const y=d3.scaleLinear().domain([0,60]).range([427,289]);
 const yr=d3.scaleLinear().domain([0,0.6]).range([427,289]);
 const x=d3.scaleBand().domain(E_clusters).range([247.5,321.5]).paddingInner(0.3).paddingOuter(0.15);
 T(228,249.5,'BRAF-like, RAI-treated PTC',{fs:8.8,u:true});
 T(240,270,'63 TF gene panel',{fs:8.8});
 const bw=x.bandwidth();
 E_clusters.forEach((c,i)=>{
   const cx=x(c)+bw/2;
   line(cx,y(E_mean[i]),cx,y(E_mean[i]+E_sem[i]),'#000',1.1);
   line(cx-3,y(E_mean[i]+E_sem[i]),cx+3,y(E_mean[i]+E_sem[i]),'#000',1.1);
   svg.append('rect').attr('x',x(c)).attr('y',y(E_mean[i])).attr('width',bw).attr('height',y(0)-y(E_mean[i])).attr('fill',CL[i]).attr('stroke','#000').attr('stroke-width',1.1);
   const my=yr(E_rate[i]), s=3;
   line(cx-s,my-s,cx+s,my+s,'#fff',1.6); line(cx-s,my+s,cx+s,my-s,'#fff',1.6);
 });
 E_sig.forEach(d=>{
   const x1=x(d[0])+bw/2, x2=x(d[1])+bw/2, yy=y(d[3]);
   svg.append('path').attr('d',`M${x1},${yy+3}V${yy}H${x2}V${yy+3}`).attr('fill','none').attr('stroke','#000').attr('stroke-width',1);
   T((x1+x2)/2,yy-2,d[2],{fs:d[2]==='ns'?7.5:7,a:'middle',fw:d[2]==='ns'?'normal':'bold'});
 });
 AX('left',y,238,{vals:E_yTicks,minor:[5,15,25,35,45,55]});
 AX('right',yr,328,{vals:E_rTicks,fmt:d3.format('.1f'),minor:[0.05,0.15,0.25,0.35,0.45,0.55]});
 const xa=AX('bottom',x,427,{tp:3.5,fs:8.5});
 xa.select('.domain').remove(); line(238,427,328,427,'#000',1.1);
 svg.append('path').attr('d','M248,442V445H318V442').attr('fill','none').attr('stroke','#000').attr('stroke-width',1.1);
 T(283,458,'Cluster',{fs:9.5,a:'middle'});
 T(210,357,'TF Genes (Mean, High Risk)',{fs:9.3,rot:-90,a:'middle'});
 T(355,357,'Recurrence Rate (X)',{fs:9.3,rot:90,a:'middle'});
}
// ================= PANEL F =================
{
 const x=d3.scaleLinear().domain([0,200]).range([419,557]);
 const y=d3.scaleLinear().domain([0,1]).range([427,295]);
 const leg=[['Cluster 1',420,258],['Cluster 2',420,271.5],['Cluster 3',483.3,258],['Cluster 4',483.3,271.5]];
 leg.forEach((d,i)=>{svg.append('rect').attr('x',d[1]).attr('y',d[2]).attr('width',12).attr('height',11).attr('fill',CL[i]).attr('stroke','#222').attr('stroke-width',1);
   T(d[1]+15.5,d[2]+9,d[0],{fs:8.6});});
 frame(418,288,558,427);
 kmCurve(F_c3,F_c3Cens,x,y,CL[2],'#f2b8ef',1.1);
 kmCurve(F_c2,F_c2Cens,x,y,CL[1],'#9fe2b2',1.1);
 kmCurve(F_c4,F_c4Cens,x,y,CL[3],'#f0c08f',1.1);
 kmCurve(F_c1,F_c1Cens,x,y,CL[0],'#a9cdf0',1.1);
 AX('left',y,418,{vals:F_yTicks,fmt:d3.format('.1f'),fs:7,nodomain:true});
 AX('bottom',x,427,{vals:F_xTicks,fs:7.5,minor:[25,75,125,175],nodomain:true,tp:2.5});
 T(467,323.5,'<i>p</i> = ns',{fs:8.6,a:'middle'}); T(518,316,'<i>p</i> = ns',{fs:8.6,a:'middle'});
 T(522,362,'<i>p</i> = 7.1x10<sup>-5</sup>',{fs:8.6,a:'middle'});
 T(488,457,'Months',{fs:9,a:'middle'});
 T(391,360,'Disease-free survival',{fs:9,rot:-90,a:'middle'});
}
// ================= PANEL G =================
{
 const y=d3.scaleLinear().domain([-2,12]).range([426,284]);
 const x=d3.scaleBand().domain(E_clusters).range([611.5,695.5]).paddingInner(0.3).paddingOuter(0.15);
 const GF=['#7fb7e5','#1fb04d','#dd77dc','#c8640a'];
 T(652,275,'NIS',{fs:10,a:'middle'});
 frame(605,284,700,426);
 const bw=x.bandwidth();
 E_clusters.forEach((c,i)=>{
   const cx=x(c)+bw/2;
   line(cx,y(G_min[i]),cx,y(G_max[i]),'#000',1.1);
   line(cx-3.5,y(G_min[i]),cx+3.5,y(G_min[i]),'#000',1.2);
   line(cx-3.5,y(G_max[i]),cx+3.5,y(G_max[i]),'#000',1.6);
   svg.append('rect').attr('x',x(c)).attr('y',y(G_q3[i])).attr('width',bw).attr('height',y(G_q1[i])-y(G_q3[i])).attr('fill',GF[i]).attr('stroke','#000').attr('stroke-width',1.1);
   line(x(c),y(G_med[i]),x(c)+bw,y(G_med[i]),'#000',1.2);
   if(G_sig[i]) T(cx,y(G_max[i])-4,G_sig[i],{fs:8.5,a:'middle',fw:G_sig[i]==='ns'?'normal':'bold'});
 });
 AX('left',y,605,{vals:G_yTicks,minor:[-1,1,3,5,7,9,11],nodomain:true});
 AX('bottom',x,426,{tp:3.5,fs:8.5,nodomain:true});
 svg.append('path').attr('d','M617,444V447H692V444').attr('fill','none').attr('stroke','#000').attr('stroke-width',1.1);
 T(654.5,461.5,'Cluster',{fs:9.5,a:'middle'});
 T(588.5,355,'NIS expression',{fs:9.3,rot:-90,a:'middle'});
}
// ================= PANEL H =================
{
 const x=d3.scaleLinear().domain([-11.705,-2.16]).range([53,193]);
 const y=d3.scaleLinear().domain([-0.2415,0.2415]).range([647,519]);
 const HC=['#8ecbf0','#666','#5fe0e6','#e86ae0','#9be59b','#6ee8f0','#7ee3f5','#f4a6c8','#a9d4f7',
   '#e85d5d','#3a3a3a','#4caf50','#3f6fd8','#b0b0b0','#d4a017','#2a2a2a','#c266c9','#2fb8b8','#e07b39','#7a7a7a','#5b5be0','#88c057','#d94f70','#444','#29a3d1','#a36bd6','#6c6c6c','#3db36b'];
 T(43,491.5,'BRAF-like RAI-treated PTC',{fs:8.8,u:true});
 const ln=d3.line().x(d=>x(d[0])).y(d=>y(d[1]));
 H_paths.forEach((p,i)=>svg.append('path').attr('d',ln(p)).attr('fill','none').attr('stroke',HC[i%HC.length]).attr('stroke-width',0.8));
 frame(53,519,193,647,1.3);
 AX('left',y,53,{vals:H_yTicks,fmt:d=>d===0?'0':d3.format('.1f')(d),fs:7.5,nodomain:true});
 AX('bottom',x,647,{vals:H_xTicks,fs:7.5,nodomain:true,tp:3});
 AX('top',x,519,{vals:H_xTicks,fmt:(d,i)=>H_topLabels[i],fs:7.5,nodomain:true,tp:2.5});
 T(123,675,'Log Lambda',{fs:9,a:'middle'});
 T(30,583,'Coefficients',{fs:9,rot:-90,a:'middle'});
}
// ================= PANEL I =================
{
 const x=d3.scaleLinear().domain([0,1]).range([237,337]);
 const y=d3.scaleLinear().domain([0,1]).range([630,529]);
 T(228,491.5,'BRAF-like RAI-treated PTC',{fs:8.8,u:true});
 svg.append('rect').attr('x',229).attr('y',507.5).attr('width',113).attr('height',11.5).attr('fill','#7030a0');
 T(285.5,516.5,'22 TF Gene Classifier',{fs:8.6,a:'middle',c:'#fff'});
 line(x(0),y(0),x(1),y(1),'#a0a0a0',0.7);
 const ln=d3.line().x(d=>x(d[0])).y(d=>y(d[1]));
 svg.append('path').attr('d',ln(I_roc)).attr('fill','none').attr('stroke','#9fb3e6').attr('stroke-width',3.2).attr('opacity',0.6);
 svg.append('path').attr('d',ln(I_roc)).attr('fill','none').attr('stroke','#1a1f8a').attr('stroke-width',1.4);
 svg.append('path').attr('d',d3.symbol().type(d3.symbolStar).size(30)()).attr('transform',`translate(${x(I_star[0])},${y(I_star[1])})`).attr('fill','#ff2020');
 frame(232,526,339,634,1.2);
 AX('left',y,232,{vals:I_ticks,fmt:d3.format('.1f'),fs:7,minor:[0.1,0.3,0.5,0.7,0.9],nodomain:true});
 AX('bottom',x,634,{vals:I_ticks,fmt:d3.format('.1f'),fs:7,minor:[0.1,0.3,0.5,0.7,0.9],nodomain:true,tp:2.5});
 T(336,572,'n = 137',{fs:7.8,a:'end'});
 I_stats.forEach((s,i)=>T(337,607.5+i*10.5,s,{fs:7.8,a:'end'}));
 T(285,660,'1 - Specificity',{fs:9,a:'middle'});
 T(211,580,'Sensitivity',{fs:9,rot:-90,a:'middle'});
}
// ================= KM risk panels =================
function kmPanel(o){
 const x=d3.scaleLinear().domain([0,200]).range([o.x0+1,o.x1]);
 const y=d3.scaleLinear().domain([0,1]).range([o.yb,o.yb-o.h]);
 svg.append('rect').attr('x',o.x0-1).attr('y',o.by).attr('width',o.x1-o.x0+2).attr('height',11.5).attr('fill',o.bcol);
 T((o.x0+o.x1)/2,o.by+9,o.banner,{fs:8.6,a:'middle',c:'#fff'});
 frame(o.x0,o.ft,o.x1,o.yb,1.2);
 kmCurve(o.low,o.lowC,x,y,'#1fd01f','#9ff09f',1.3);
 kmCurve(o.high,o.highC,x,y,'#1a1f8a','#9fb3e6',1.2);
 AX('left',y,o.x0,{vals:KM_yTicks,fmt:d3.format('.1f'),fs:6.3,ts:2.5,nodomain:true,tp:1});
 AX('bottom',x,o.yb,{vals:KM_xTicks,fs:6.5,ts:2.5,minor:[25,75,125,175],mts:1.5,nodomain:true,tp:2});
 T((o.x0+o.x1)/2,o.yb+o.mo,'Months',{fs:8.8,a:'middle'});
 T(o.ylx,(o.ft+o.yb)/2,'Disease-free survival',{fs:8.8,rot:-90,a:'middle'});
 o.txt.forEach(t=>T(t[0],t[1],t[2],{fs:t[3]||7.3,a:t[4]||'middle'}));
}
// J
T(476,485,'BRAF-like RAI-treated ',{fs:8.8,a:'middle',u:true});
T(476,497.5,'PTC (n = 137)',{fs:8.8,a:'middle',u:true});
kmPanel({x0:420,x1:532,ft:523,yb:634,h:104.5,by:507.5,bcol:'#7030a0',banner:'22 TF Gene Classifier',mo:22,ylx:398,
 low:J_low,lowC:J_lowCens,high:J_high,highC:J_highCens,
 txt:[[492,544,'Low risk (n = 109)'],[531,570.5,'<i>p</i> = 9.59x10<sup>-21</sup>',7,'end'],[531,581,'<i>q</i> = 3.83x10<sup>-20</sup>',7,'end'],[493,619,'High risk (<i>n</i> = 28)']]});
T(414,674,'HR = 39.06 (95%CI:11.36, 134.30)',{fs:7.6});
T(414,685,'<i>p</i> = 5.99x10<sup>-9</sup>, DFS<sub>median</sub> = 18.63',{fs:7.6});
T(414,697,'SENS: 85.71%, SPEC: 91.38%',{fs:7.6});
// K
T(648,490,'RAI-treated PTC (n = 256)',{fs:8.8,a:'middle',u:true});
kmPanel({x0:590,x1:702,ft:523,yb:634,h:104.5,by:507.5,bcol:'#7030a0',banner:'22 TF Gene Classifier',mo:22,ylx:570,
 low:K_low,lowC:K_lowCens,high:K_high,highC:K_highCens,
 txt:[[658,551,'Low risk (n = 216)'],[700,570.5,'<i>p</i> = 4.27x10<sup>-18</sup>',7,'end'],[700,581,'<i>q</i> = 9.76x10<sup>-18</sup>',7,'end'],[661,609,'High risk (n = 40)']]});
T(581,674,'HR = 11.63 (95%CI:5.80,23.31)',{fs:7.6});
T(581,685,'<i>p</i> = 4.74x10<sup>-12</sup>, DFS<sub>median</sub> = 21.65',{fs:7.6});
// L left
T(82,721.5,'BRAF-like RAI-treated ',{fs:8.8,a:'middle',u:true});
T(83,734,'PTC (n = 137)',{fs:8.8,a:'middle',u:true});
kmPanel({x0:28,x1:140,ft:761,yb:872,h:106,by:743,bcol:'#c00000',banner:'Dual TF + VCP Classifier',mo:22,ylx:9.5,
 low:L1_low,lowC:L1_lowCens,high:L1_high,highC:L1_highCens,
 txt:[[98,783,'Low risk (n = 112)'],[133,810.5,'<i>p</i> = 1.23x10<sup>-29</sup>',7,'end'],[133,821,'<i>q</i> = 1.49x10<sup>-28</sup>',7,'end'],[100,864,'High risk (n = 25)']]});
T(27,908,'HR = 84.43 (95%CI:19.34, 368.53)',{fs:7.6});
T(27,919,'<i>p</i> = 3.64x10<sup>-9</sup>, DFS<sub>median</sub> = 16.23',{fs:7.6});
T(27,931,'SENS: 90.48%, SPEC: 94.83%',{fs:7.6});
// L right
T(246,729,'RAI-treated PTC (n = 256)',{fs:8.8,a:'middle',u:true});
kmPanel({x0:190,x1:302,ft:761,yb:872,h:106,by:743,bcol:'#c00000',banner:'Dual TF + VCP Classifier',mo:22,ylx:170,
 low:L2_low,lowC:L2_lowCens,high:L2_high,highC:L2_highCens,
 txt:[[262,786,'Low risk (n = 222)'],[289,810.5,'<i>p</i> = 1.86x10<sup>-29</sup>',7,'end'],[289,821,'<i>q</i> = 1.49x10<sup>-28</sup>',7,'end'],[263,856,'High risk (n = 34)']]});
T(184,908,'HR = 19.64 (95%CI:9.59, 40.20)',{fs:7.6});
T(184,919,'<i>p</i> = 3.79x10<sup>-16</sup>, DFS<sub>median</sub> = 17.28',{fs:7.6});

// ================= FOREST PANELS =================
function forest(o){
 const x=d3.scaleLog().domain([0.1,100]).range([o.x0,o.x1]);
 const minor=[];[0.1,1,10].forEach(b=>{for(let k=2;k<=9;k++)minor.push(b*k);});
 T((o.x0+o.x1)/2,o.hy,'Hazard ratio (± 95% CI)',{fs:7.4,a:'middle'});
 line(x(1),o.top,x(1),o.bot,'#d0d0d0',1.6);
 frame(o.x0,o.top,o.x1,o.bot,1.1);
 AX('top',x,o.top,{vals:FP_ticks,fmt:d=>d===0.1?'0.1':String(d),fs:7,ts:3,minor,mts:1.8,msw:0.9,nodomain:true,tp:1});
 o.rows.forEach((ry,i)=>{
   line(o.x0-3,ry,o.x0,ry,'#000',1.1);
   T(o.x0-5,ry+2.6,FP_rows[i],{fs:7.3,a:'end'});
   line(x(o.lo[i]),ry,x(o.hi[i]),ry,'#222',1.1);
   line(x(o.lo[i]),ry-2.5,x(o.lo[i]),ry+2.5,'#222',1.1);
   line(x(o.hi[i]),ry-2.5,x(o.hi[i]),ry+2.5,'#222',1.1);
   svg.append('circle').attr('cx',x(o.hr[i])).attr('cy',ry).attr('r',2.5).attr('fill','#ff1010');
   T(o.px,ry+2.3,o.p[i],{fs:6.3,a:'middle',fw:'normal'});
 });
 T(o.x0-5,o.rows[4]+11,'classifier',{fs:7.3,a:'end'});
 T(o.phx,o.top+1,'<i>p</i>-value',{fs:7.1,fw:'normal'});
}
T(363,720,'RAI-treated PTC (n = 211); Univariate',{fs:8.6,u:true});
T(578.3,720,'Multivariate',{fs:8.6,u:true});
forest({x0:369.5,x1:491.5,top:753,bot:828,rows:[763,776.5,790,803.5,817],hy:737,hr:M_uniHR,lo:M_uniLo,hi:M_uniHi,p:M_uniP,px:507,phx:497.5});
forest({x0:587.3,x1:709.3,top:753,bot:828,rows:[763,776.5,790,803.5,817],hy:737,hr:M_mulHR,lo:M_mulLo,hi:M_mulHi,p:M_mulP,px:725,phx:716.5});
T(363,848,'THCA (n = 399); Univariate',{fs:8.6,u:true});
T(578.3,848,'Multivariate',{fs:8.6,u:true});
forest({x0:371.5,x1:493,top:882,bot:957,rows:[889,903,917,931,945],hy:865.5,hr:N_uniHR,lo:N_uniLo,hi:N_uniHi,p:N_uniP,px:510,phx:501});
forest({x0:587.3,x1:709.3,top:882,bot:957,rows:[889,903,917,931,945],hy:865.5,hr:N_mulHR,lo:N_mulLo,hi:N_mulHi,p:N_mulP,px:731,phx:716.5});
</script>
</body></html>
